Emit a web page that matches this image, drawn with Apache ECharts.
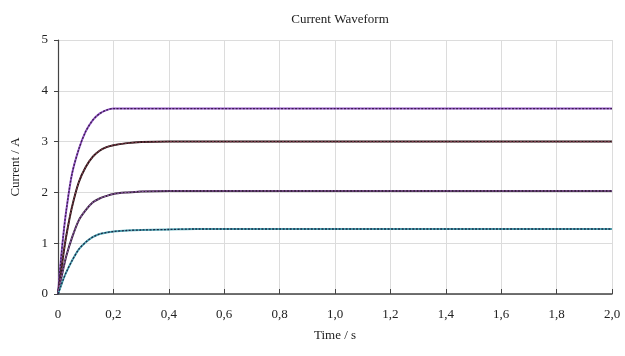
<!DOCTYPE html>
<html>
<head>
<meta charset="utf-8">
<script src="https://cdn.jsdelivr.net/npm/echarts@6/dist/echarts.min.js"></script>
<style>
  html, body { margin: 0; padding: 0; background: #fff; }
  #chart { width: 625px; height: 356px; }
</style>
</head>
<body>
<div id="chart"></div>
<script>
// time samples (s)
const times = [0, 0.01, 0.02, 0.03, 0.05, 0.075, 0.1, 0.125, 0.15, 0.175, 0.2, 0.25, 0.3, 0.4, 0.5, 0.7, 1.0, 1.5, 2.0];

// current curves (A)
const curveA = [0, 0.65, 1.2, 1.65, 2.35, 2.85, 3.2, 3.42, 3.55, 3.62, 3.65, 3.65, 3.65, 3.65, 3.65, 3.65, 3.65, 3.65, 3.65];
const curveB = [0, 0.4, 0.8, 1.15, 1.7, 2.2, 2.5, 2.7, 2.82, 2.89, 2.93, 2.97, 2.99, 3.0, 3.0, 3.0, 3.0, 3.0, 3.0];
const curveC = [0, 0.27, 0.52, 0.75, 1.1, 1.45, 1.65, 1.8, 1.88, 1.93, 1.97, 2.0, 2.02, 2.03, 2.03, 2.03, 2.03, 2.03, 2.03];
const curveD = [0, 0.15, 0.3, 0.43, 0.65, 0.88, 1.02, 1.12, 1.18, 1.21, 1.23, 1.25, 1.26, 1.27, 1.28, 1.28, 1.28, 1.28, 1.28];

const xTicks = { min: 0, max: 2, interval: 0.2 };
const yTicks = { min: 0, max: 5, interval: 1 };

const toPairs = vals => times.map((t, i) => [t, vals[i]]);

// each curve: solid coloured line + dark dotted trace over it
const curves = [
  { data: curveA, color: '#9355c8', dot: '#3b1f4d' },
  { data: curveB, color: '#2a1618', dot: '#7a3a48' },
  { data: curveC, color: '#3a2440', dot: '#8a5aa0' },
  { data: curveD, color: '#4fa6b4', dot: '#1b2b48' },
];

const series = [];
curves.forEach(c => {
  series.push({
    type: 'line', data: toPairs(c.data), smooth: 0.3, symbol: 'none',
    lineStyle: { color: c.color, width: 2 }, z: 2,
  });
  series.push({
    type: 'line', data: toPairs(c.data), smooth: 0.3, symbol: 'none',
    lineStyle: { color: c.dot, width: 1.3, type: [2, 1.5] }, z: 3,
  });
});

const chart = echarts.init(document.getElementById('chart'));
const serif = '"Liberation Serif", "DejaVu Serif", serif';

chart.setOption({
  animation: false,
  title: {
    text: 'Current Waveform', left: 335, top: 8, textAlign: 'center',
    textStyle: { fontFamily: serif, fontSize: 13, fontWeight: 'normal', color: '#222' },
  },
  grid: { left: 58, right: 13, top: 40, bottom: 62 },
  xAxis: {
    type: 'value', min: xTicks.min, max: xTicks.max, interval: xTicks.interval,
    name: 'Time / s', nameLocation: 'middle', nameGap: 35,
    nameTextStyle: { fontFamily: serif, fontSize: 13, color: '#222' },
    axisLine: { lineStyle: { color: '#444', width: 1.5 } },
    axisTick: { inside: true, length: 5, lineStyle: { color: '#444' } },
    axisLabel: {
      fontFamily: serif, fontSize: 13, color: '#222', margin: 14,
      formatter: v => v === 0 ? '0' : v.toFixed(1).replace('.', ','),
    },
    splitLine: { show: true, lineStyle: { color: '#dcdcdc' } },
  },
  yAxis: {
    type: 'value', min: yTicks.min, max: yTicks.max, interval: yTicks.interval,
    name: 'Current / A', nameLocation: 'middle', nameGap: 36,
    nameTextStyle: { fontFamily: serif, fontSize: 13, color: '#222' },
    axisLine: { show: true, lineStyle: { color: '#444', width: 1.2 } },
    axisTick: { show: true, length: 4, lineStyle: { color: '#444' } },
    axisLabel: { fontFamily: serif, fontSize: 13, color: '#222', margin: 10 },
    splitLine: { show: true, lineStyle: { color: '#dcdcdc' } },
  },
  series: series,
});
</script>
</body>
</html>
